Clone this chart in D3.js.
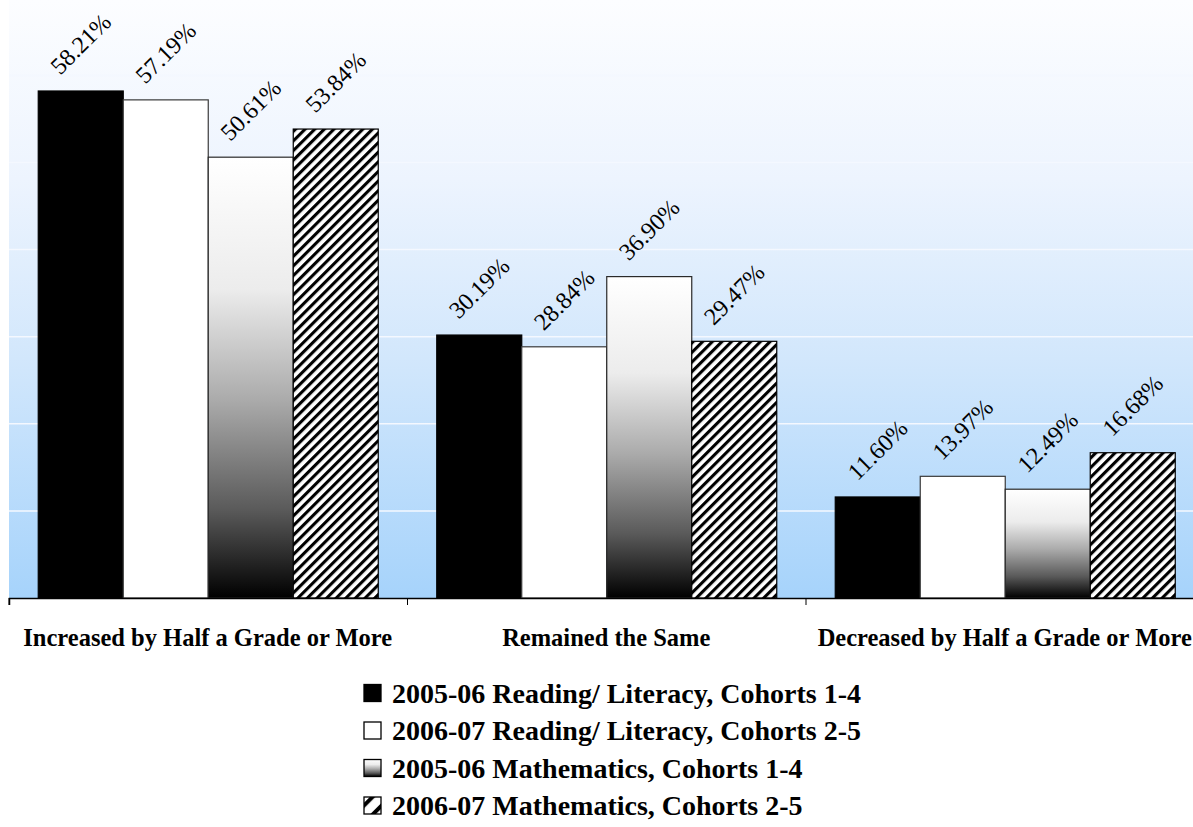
<!DOCTYPE html>
<html>
<head>
<meta charset="utf-8">
<script src="https://cdn.jsdelivr.net/npm/d3@7"></script>
<style>
  html, body { margin: 0; padding: 0; background: #ffffff; }
  svg { display: block; }
</style>
</head>
<body>
<svg id="chart" width="1193" height="827"></svg>
<script>
// Grade-change outcomes by cohort year and subject (percent of students)
const categories = [
  "Increased by Half a Grade or More",
  "Remained the Same",
  "Decreased by Half a Grade or More"
];
const seriesNames = [
  "2005-06 Reading/ Literacy, Cohorts 1-4",
  "2006-07 Reading/ Literacy, Cohorts 2-5",
  "2005-06 Mathematics, Cohorts 1-4",
  "2006-07 Mathematics, Cohorts 2-5"
];
const reading0506 = [58.21, 30.19, 11.60];
const reading0607 = [57.19, 28.84, 13.97];
const math0506    = [50.61, 36.90, 12.49];
const math0607    = [53.84, 29.47, 16.68];
const seriesValues = [reading0506, reading0607, math0506, math0607];
const yTicks = [0, 10, 20, 30, 40, 50, 60, 70];

const svg = d3.select("#chart");
const W = 1193, H = 827;
const serif = "'Liberation Serif', 'Times New Roman', serif";

// plot frame
const plotLeft = 9, plotRight = 1204.5, plotTop = 0, baseY = 598;

const x0 = d3.scaleBand().domain(categories).range([plotLeft, plotRight]).paddingInner(0).paddingOuter(0);
const groupPad = 29.25;
const x1 = d3.scaleBand().domain(d3.range(seriesNames.length))
  .range([groupPad, x0.bandwidth() - groupPad]).padding(0);
const y = d3.scaleLinear().domain([0, 70]).range([baseY, baseY - 70 * 8.71]);

const defs = svg.append("defs");

// plot background: pale at the top, light blue at the baseline
const bg = defs.append("linearGradient").attr("id", "bgGrad")
  .attr("x1", 0).attr("y1", 0).attr("x2", 0).attr("y2", 1);
[[0, "#fcfdff"], [0.3, "#edf4fe"], [0.6, "#d2e7fc"], [1, "#a6d3fb"]]
  .forEach(([o, c]) => bg.append("stop").attr("offset", o).attr("stop-color", c));

// white-to-black fill for the 2005-06 mathematics bars
const gg = defs.append("linearGradient").attr("id", "grayGrad")
  .attr("x1", 0).attr("y1", 0).attr("x2", 0).attr("y2", 1);
[[0, "#ffffff"], [0.3, "#ececec"], [0.55, "#ababab"], [0.8, "#5a5a5a"], [1, "#000000"]]
  .forEach(([o, c]) => gg.append("stop").attr("offset", o).attr("stop-color", c));

// diagonal hatch for the 2006-07 mathematics bars
const hatch = defs.append("pattern").attr("id", "hatch")
  .attr("patternUnits", "userSpaceOnUse").attr("width", 6.8).attr("height", 6.8)
  .attr("patternTransform", "rotate(45)");
hatch.append("rect").attr("width", 6.8).attr("height", 6.8).attr("fill", "#ffffff");
hatch.append("rect").attr("x", 0).attr("width", 3.1).attr("height", 6.8).attr("fill", "#000000");

const hatchBig = defs.append("pattern").attr("id", "hatchBig")
  .attr("patternUnits", "userSpaceOnUse").attr("width", 12.5).attr("height", 12.5)
  .attr("patternTransform", "rotate(45)");
hatchBig.append("rect").attr("width", 12.5).attr("height", 12.5).attr("fill", "#ffffff");
hatchBig.append("rect").attr("x", 0).attr("width", 4).attr("height", 12.5).attr("fill", "#000000");

const fills = ["#000000", "#ffffff", "url(#grayGrad)", "url(#hatch)"];
const strokes = ["#000000", "#3a3a3a", "#2a2a2a", "#000000"];
const legendFills = ["#000000", "#ffffff", "url(#grayGrad)", "url(#hatchBig)"];

// background
svg.append("rect").attr("x", plotLeft).attr("y", plotTop)
  .attr("width", W - plotLeft).attr("height", baseY - plotTop)
  .attr("fill", "url(#bgGrad)");

// horizontal gridlines
svg.append("g").selectAll("line").data(yTicks.filter(t => t > 0 && y(t) > 0)).join("line")
  .attr("x1", plotLeft).attr("x2", W)
  .attr("y1", d => y(d)).attr("y2", d => y(d))
  .attr("stroke", "#f4f8ff").attr("stroke-width", 1.5);

// bars
const groups = svg.append("g").selectAll("g").data(categories).join("g")
  .attr("transform", d => `translate(${x0(d)},0)`);

groups.each(function (cat, ci) {
  const g = d3.select(this);
  seriesValues.forEach((vals, si) => {
    g.append("rect")
      .attr("x", x1(si)).attr("y", y(vals[ci]))
      .attr("width", x1.bandwidth()).attr("height", baseY - y(vals[ci]))
      .attr("fill", fills[si]).attr("stroke", strokes[si]).attr("stroke-width", 1.2);
  });
  seriesValues.forEach((vals, si) => {
    const cx = x1(si) + x1.bandwidth() / 2;
    const cy = y(vals[ci]) - 47;
    g.append("text")
      .attr("transform", `translate(${cx},${cy}) rotate(-45)`)
      .attr("text-anchor", "middle").attr("dominant-baseline", "central")
      .attr("font-family", serif)
      .attr("font-size", 24).attr("fill", "#000")
      .text(vals[ci].toFixed(2) + "%");
  });
});

// category axis
const xAxis = d3.axisBottom(x0).tickSize(7).tickFormat("");
const axisG = svg.append("g").attr("transform", `translate(0,${baseY})`).call(xAxis);
axisG.select(".domain").attr("stroke", "#000").attr("stroke-width", 1.5);
axisG.selectAll(".tick").remove();
axisG.selectAll(".edge").data(x0.domain().map(d => x0(d))).join("line")
  .attr("x1", d => d).attr("x2", d => d).attr("y1", 0).attr("y2", 7)
  .attr("stroke", "#000").attr("stroke-width", 1);

svg.append("g").selectAll("text").data(categories).join("text")
  .attr("x", d => x0(d) + x0.bandwidth() / 2 - 0.5).attr("y", 646)
  .attr("text-anchor", "middle")
  .attr("font-family", serif)
  .attr("font-weight", "bold").attr("font-size", 24.5).attr("fill", "#000")
  .text(d => d);

// legend
const legend = svg.append("g");
const legRowY = [693, 730.5, 768, 805.5];
seriesNames.forEach((name, i) => {
  legend.append("rect")
    .attr("x", 364).attr("y", legRowY[i] - 8.5).attr("width", 17).attr("height", 17)
    .attr("fill", legendFills[i]).attr("stroke", "#000").attr("stroke-width", 1.3);
  legend.append("text")
    .attr("x", 392).attr("y", legRowY[i] + 9.5)
    .attr("font-family", serif)
    .attr("font-weight", "bold").attr("font-size", 28).attr("fill", "#000")
    .text(name);
});
</script>
</body>
</html>
